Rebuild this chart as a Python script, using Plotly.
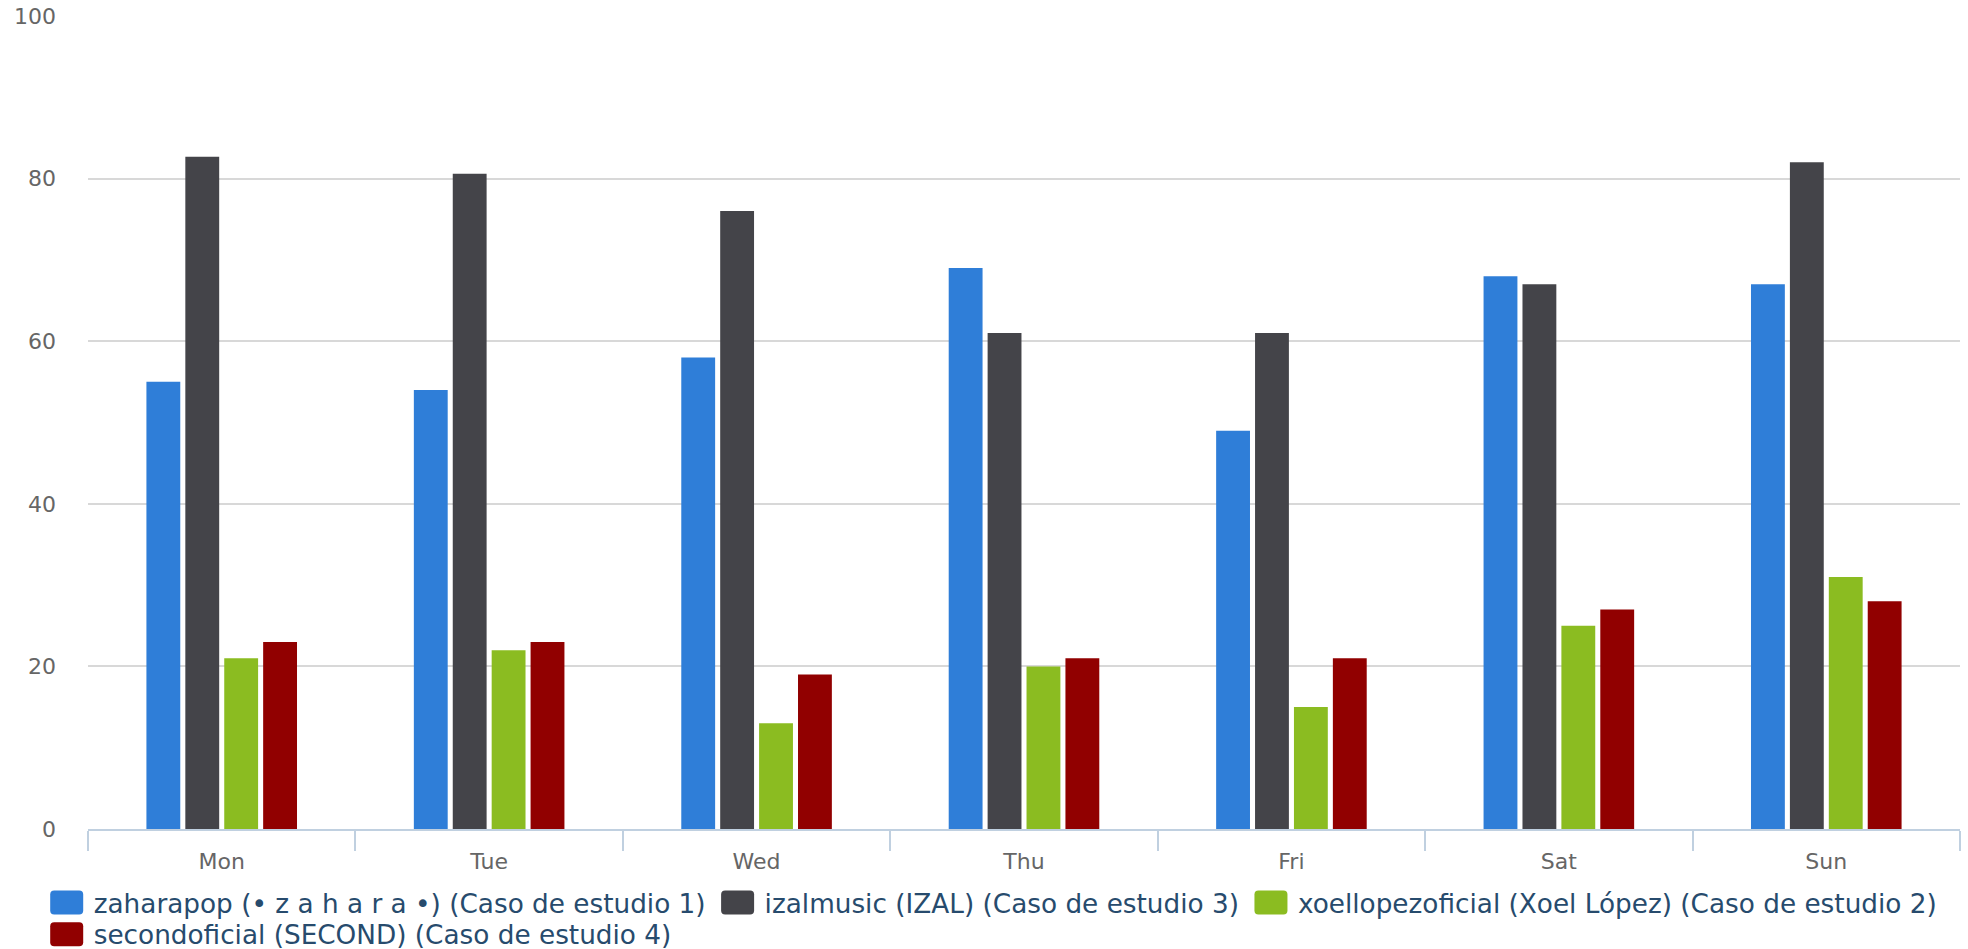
import plotly.graph_objects as go

days = ["Mon", "Tue", "Wed", "Thu", "Fri", "Sat", "Sun"]
series_names = [
    "zaharapop (• z a h a r a •) (Caso de estudio 1)",
    "izalmusic (IZAL) (Caso de estudio 3)",
    "xoellopezoficial (Xoel López) (Caso de estudio 2)",
    "secondoficial (SECOND) (Caso de estudio 4)",
]
zaharapop = [55, 54, 58, 69, 49, 68, 67]
izalmusic = [82.7, 80.6, 76, 61, 61, 67, 82]
xoellopez = [21, 22, 13, 20, 15, 25, 31]
secondoficial = [23, 23, 19, 21, 21, 27, 28]
colors = ["#2f7ed8", "#444449", "#8bbc21", "#910000"]
legend_rows = ["legend", "legend", "legend", "legend2"]
y_ticks = [0, 20, 40, 60, 80, 100]

FONT = "DejaVu Sans"
fig = go.Figure()
for name, vals, col, lg in zip(series_names, [zaharapop, izalmusic, xoellopez, secondoficial], colors, legend_rows):
    fig.add_trace(go.Bar(x=days, y=vals, name=name, legend=lg,
                         marker=dict(color=col, line=dict(width=0))))

legend_common = dict(
    orientation="h", xanchor="left", yanchor="top",
    font=dict(family=FONT, size=26.3, color="#274b6d"),
    itemwidth=44, bgcolor="rgba(0,0,0,0)", traceorder="normal", borderwidth=0,
)

fig.update_layout(
    width=1968, height=949,
    margin=dict(l=88, r=8, t=16, b=120, autoexpand=False),
    paper_bgcolor="white", plot_bgcolor="white",
    barmode="group", bargap=0.418, bargroupgap=0.13,
    font=dict(family=FONT),
    showlegend=True,
    legend=dict(x=-0.0258, y=-0.0615, **legend_common),
    legend2=dict(x=-0.0258, y=-0.1003, **legend_common),
    xaxis=dict(
        showline=True, linecolor="#C0D0E0", linewidth=2,
        ticks="outside", tickson="boundaries", ticklen=20, tickwidth=2, tickcolor="#C0D0E0",
        tickfont=dict(family=FONT, size=22, color="#666666"),
        ticklabelstandoff=12,
        showgrid=False, zeroline=False, fixedrange=True,
    ),
    yaxis=dict(
        range=[0, 100], tickvals=y_ticks, ticktext=[str(v) for v in y_ticks],
        showgrid=True, gridcolor="#D8D8D8", gridwidth=2,
        zeroline=False, showline=False, ticks="",
        tickfont=dict(family=FONT, size=22, color="#666666"),
        ticklabelstandoff=31, fixedrange=True,
    ),
)

post = """
document.body.style.margin = '0';
document.body.style.overflow = 'hidden';
var gd = document.getElementById('{plot_id}');
gd.querySelectorAll('.legendpoints path').forEach(function(p){
  p.setAttribute('d','M-12.5,-12H12.5A4,4 0 0 1 16.5,-8V8A4,4 0 0 1 12.5,12H-12.5A4,4 0 0 1 -16.5,8V-8A4,4 0 0 1 -12.5,-12Z');
});
"""
fig.write_html("out.html", post_script=post, config={"displayModeBar": False})
